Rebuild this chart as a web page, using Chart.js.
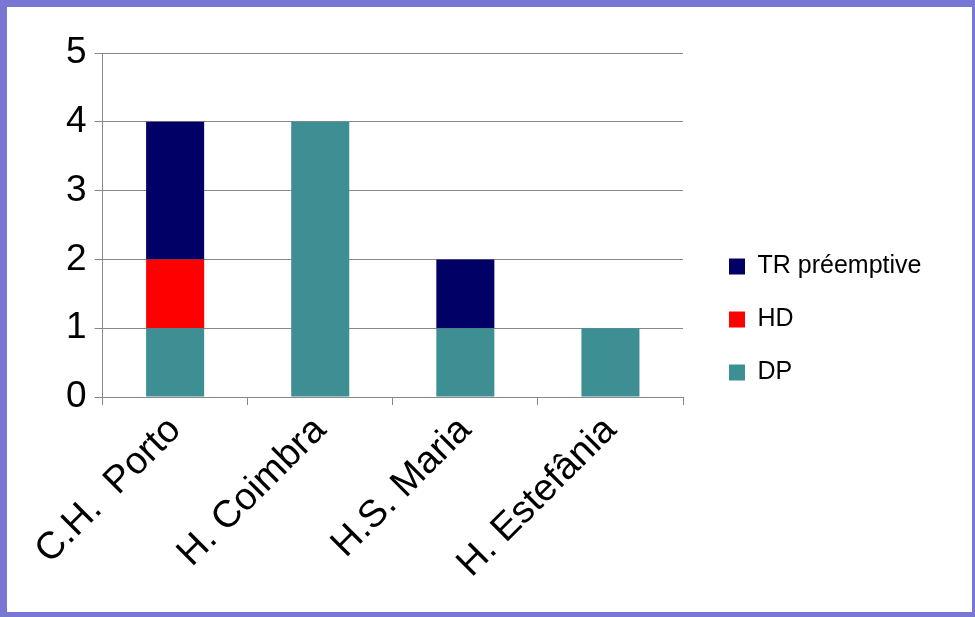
<!DOCTYPE html>
<html><head><meta charset="utf-8">
<script src="https://cdn.jsdelivr.net/npm/chart.js@4/dist/chart.umd.min.js"></script>
<style>
html,body{margin:0;padding:0;background:#fff;}
#wrap{position:absolute;left:0;top:0;width:975px;height:617px;box-sizing:border-box;border:7px solid #7878d4;border-right:3px solid #7878d4;border-bottom:5px solid #7878d4;}
#c{position:absolute;left:0;top:0;}
</style></head><body>
<div id="wrap"><canvas id="c" width="965" height="605"></canvas></div>
<script>
const categories=["C.H.  Porto","H. Coimbra","H.S. Maria","H. Estefânia"];
const dp=[1,4,1,1];
const hd=[1,0,0,0];
const tr=[2,0,1,0];
const yTicks=[0,1,2,3,4,5];
const font={family:"Liberation Sans, Arial, sans-serif"};
new Chart(document.getElementById('c'),{
 type:'bar',
 data:{labels:categories,datasets:[
  {label:'DP',data:dp,backgroundColor:'#3d8f94'},
  {label:'HD',data:hd,backgroundColor:'#ff0000'},
  {label:'TR préemptive',data:tr,backgroundColor:'#000066'}
 ]},
 options:{responsive:false,animation:false,
  datasets:{bar:{barPercentage:0.4,categoryPercentage:1}},
  layout:{padding:{top:46,left:51,right:0,bottom:0}},
  plugins:{tooltip:{enabled:false},legend:{position:'right',reverse:true,
   labels:{boxWidth:16,boxHeight:16,padding:28,color:'#000',font:{...font,size:25}}}},
  scales:{
   x:{stacked:true,
    grid:{offset:true,drawOnChartArea:false,color:'#888',tickLength:8},
    border:{color:'#888'},
    ticks:{minRotation:45,maxRotation:45,color:'#000',font:{...font,size:38}},
    afterFit:s=>{s.height=215;}},
   y:{stacked:true,min:0,max:5,afterBuildTicks:a=>{a.ticks=yTicks.map(v=>({value:v}));},
    grid:{color:'#888',tickLength:8},border:{color:'#888'},
    ticks:{color:'#000',padding:8,font:{...font,size:37}}}
  }},
 plugins:[{id:'legW',afterInit(c){const l=c.legend;const f=l.fit.bind(l);l.fit=function(){f();this.width=289;};
   const d=l.draw.bind(l);l.draw=function(){const ctx=c.ctx;ctx.save();ctx.translate(18,-13);d();ctx.restore();};}}]
});
</script></body></html>
